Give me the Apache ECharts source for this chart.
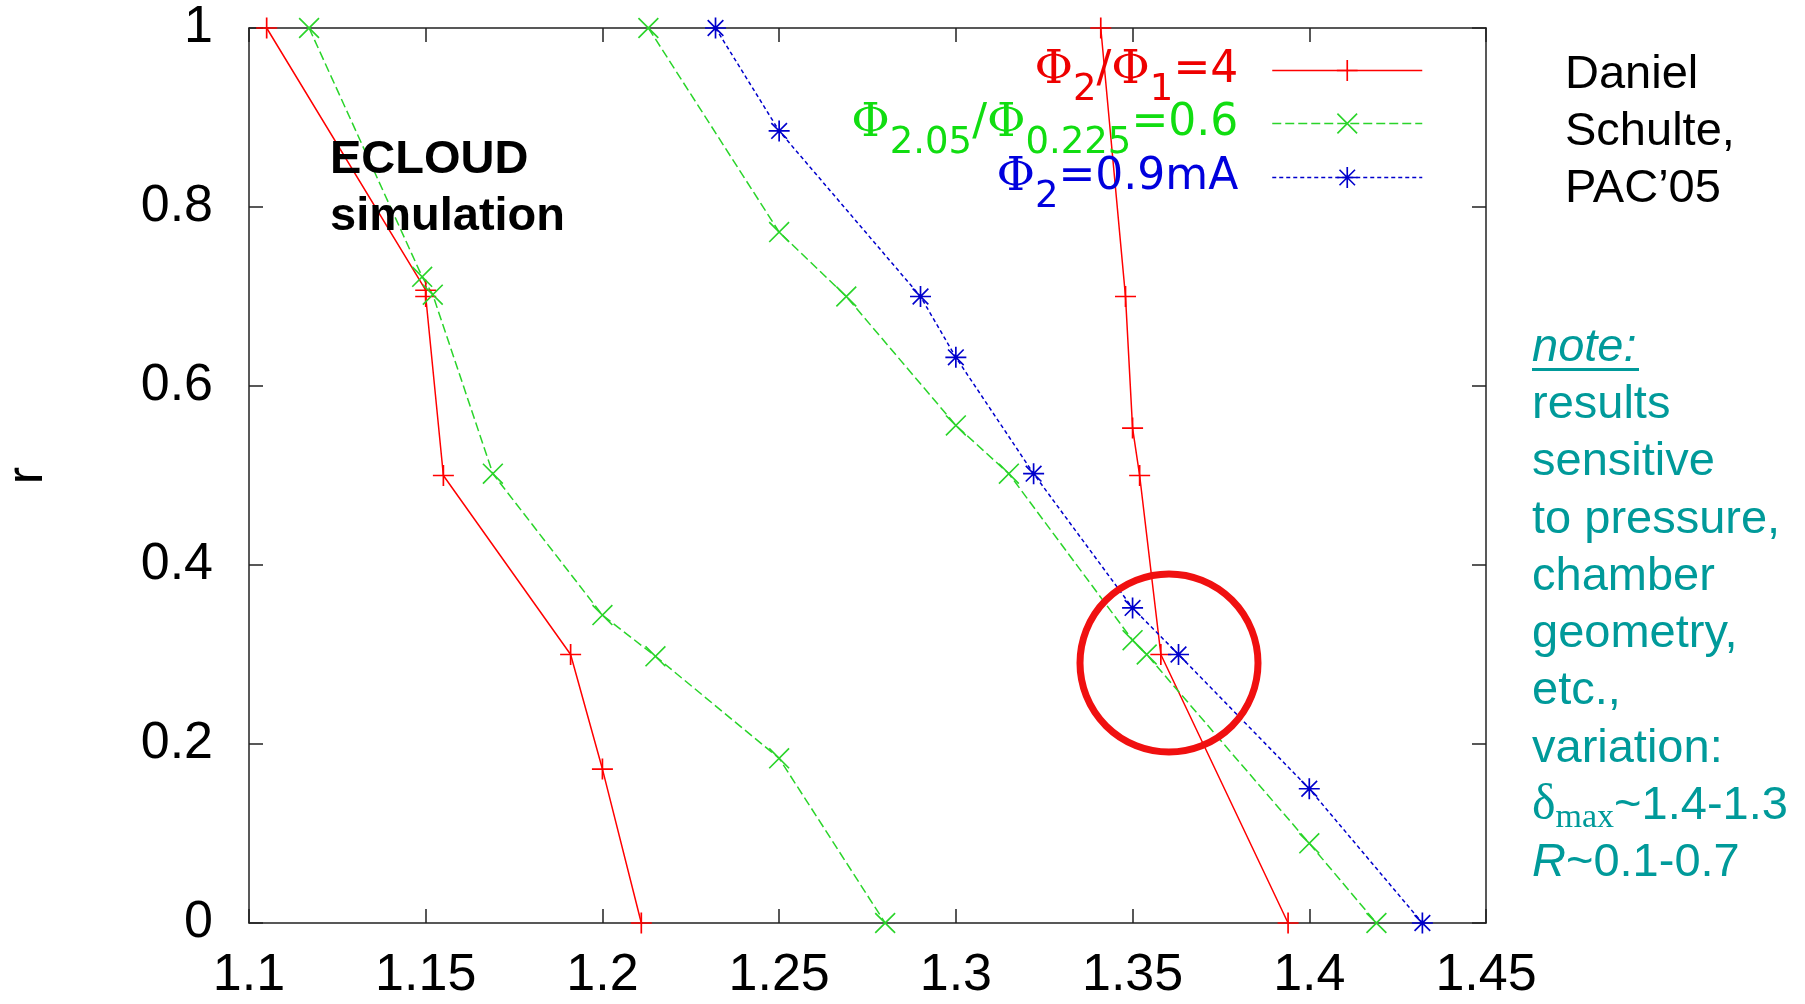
<!DOCTYPE html>
<html>
<head>
<meta charset="utf-8">
<script src="https://cdn.jsdelivr.net/npm/echarts@6/dist/echarts.min.js"></script>
<style>
  html, body { margin: 0; padding: 0; background: #ffffff; }
  #chart { width: 1805px; height: 1004px; }
</style>
</head>
<body>
<div id="chart"></div>
<script>
// r versus delta_max for three threshold definitions (ECLOUD simulation)
const xTicks = [1.1, 1.15, 1.2, 1.25, 1.3, 1.35, 1.4, 1.45];
const yTicks = [0, 0.2, 0.4, 0.6, 0.8, 1];

const seriesNames = ['Φ2/Φ1=4', 'Φ2.05/Φ0.225=0.6', 'Φ2=0.9mA'];

// [delta_max, r] pairs
const ratio4Low   = [[1.105, 1.0], [1.150, 0.707], [1.150, 0.700], [1.155, 0.500], [1.191, 0.300], [1.200, 0.172], [1.211, 0.0]];
const ratio4High  = [[1.341, 1.0], [1.348, 0.700], [1.350, 0.553], [1.352, 0.500], [1.358, 0.300], [1.394, 0.0]];
const ratio06Low  = [[1.117, 1.0], [1.149, 0.722], [1.152, 0.702], [1.169, 0.502], [1.200, 0.344], [1.215, 0.298], [1.250, 0.184], [1.280, 0.0]];
const ratio06High = [[1.213, 1.0], [1.250, 0.772], [1.269, 0.700], [1.300, 0.556], [1.315, 0.502], [1.350, 0.316], [1.354, 0.300], [1.400, 0.089], [1.419, 0.0]];
const current09   = [[1.232, 1.0], [1.250, 0.885], [1.290, 0.700], [1.300, 0.632], [1.322, 0.502], [1.350, 0.352], [1.363, 0.300], [1.400, 0.150], [1.432, 0.0]];

const noteLines = ['note:', 'results', 'sensitive', 'to pressure,', 'chamber', 'geometry,', 'etc.,', 'variation:'];

// gnuplot-style point markers drawn as thin filled bars
const PLUS  = 'path://M0,9.2h20v1.6h-20z M9.2,0h1.6v20h-1.6z';
const CROSS = 'path://M0,1.1L1.1,0L20,18.9L18.9,20z M18.9,0L20,1.1L1.1,20L0,18.9z';
const STAR  = 'path://M0,9.2h20v1.6h-20z M9.2,0h1.6v20h-1.6z M2,3.1L3.1,2L18,16.9L16.9,18z M16.9,2L18,3.1L3.1,18L2,16.9z';

const RED = '#ff0000', GREEN = '#2ad42a', BLUE = '#0000cc';
const TEAL = '#009a9a';
const AXIS = '#222222';

function curve(name, data, color, symbol, dash) {
  return {
    type: 'line', name: name, data: data,
    symbol: symbol, symbolSize: 21, showAllSymbol: true,
    lineStyle: { color: color, width: 1.5, type: dash },
    itemStyle: { color: color },
    emphasis: { disabled: true },
    z: 3
  };
}

const legendLabels = [
  '{p|Φ}{s|2}{n|/}{p|Φ}{s|1}{n|=4}{g| }',
  '{p|Φ}{s|2.05}{n|/}{p|Φ}{s|0.225}{n|=0.6}{g| }',
  '{p|Φ}{s|2}{n|=0.9mA}{g| }'
];
const legendColors = ['#ee0000', '#11dd11', '#0000dd'];
const legendTops = [47, 100, 154];

function legendRich(color) {
  return {
    p: { fontFamily: 'DejaVu Serif', fontSize: 47, lineHeight: 76, verticalAlign: 'middle', color: color },
    n: { fontFamily: 'DejaVu Sans', fontSize: 44, lineHeight: 76, verticalAlign: 'middle', color: color },
    s: { fontFamily: 'DejaVu Sans', fontSize: 37, lineHeight: 20, verticalAlign: 'bottom', color: color },
    g: { width: 29, fontSize: 10, lineHeight: 76, verticalAlign: 'middle' }
  };
}

function fmtTick(v) { return String(parseFloat(v.toFixed(2))); }

const tickFont = { fontFamily: 'Liberation Sans', fontSize: 52, color: '#000000' };

const chart = echarts.init(document.getElementById('chart'), null, { renderer: 'canvas' });

const noteRichText = noteLines.map(function (l, i) { return (i === 0 ? '{u|' : '{t|') + l + '}'; })
  .concat(['{d|δ}{m|max}{t|~1.4-1.3}', '{i|R}{t|~0.1-0.7}']).join('\n');

chart.setOption({
  animation: false,
  backgroundColor: '#ffffff',
  grid: { left: 249, top: 28, width: 1237, height: 895, containLabel: false, outerBoundsMode: 'none' },
  xAxis: [
    {
      type: 'value', position: 'bottom',
      min: xTicks[0], max: xTicks[xTicks.length - 1], interval: 0.05,
      axisLine: { show: true, onZero: false, lineStyle: { color: AXIS, width: 1.5 } },
      axisTick: { show: true, inside: true, length: 14, lineStyle: { color: AXIS, width: 1.5 } },
      axisLabel: Object.assign({ margin: 27, showMinLabel: true, showMaxLabel: true, formatter: fmtTick }, tickFont),
      splitLine: { show: false }
    },
    {
      type: 'value', position: 'top',
      min: xTicks[0], max: xTicks[xTicks.length - 1], interval: 0.05,
      axisLine: { show: true, onZero: false, lineStyle: { color: AXIS, width: 1.5 } },
      axisTick: { show: true, inside: true, length: 14, lineStyle: { color: AXIS, width: 1.5 } },
      axisLabel: { show: false },
      splitLine: { show: false }
    }
  ],
  yAxis: [
    {
      type: 'value', position: 'left',
      min: yTicks[0], max: yTicks[yTicks.length - 1], interval: 0.2,
      name: 'r', nameLocation: 'middle', nameRotate: 90, nameGap: 195,
      nameTextStyle: { fontFamily: 'Liberation Sans', fontSize: 52, color: '#000000' },
      axisLine: { show: true, onZero: false, lineStyle: { color: AXIS, width: 1.5 } },
      axisTick: { show: true, inside: true, length: 14, lineStyle: { color: AXIS, width: 1.5 } },
      axisLabel: Object.assign({ margin: 36, showMinLabel: true, showMaxLabel: true, formatter: fmtTick }, tickFont),
      splitLine: { show: false }
    },
    {
      type: 'value', position: 'right',
      min: yTicks[0], max: yTicks[yTicks.length - 1], interval: 0.2,
      axisLine: { show: true, onZero: false, lineStyle: { color: AXIS, width: 1.5 } },
      axisTick: { show: true, inside: true, length: 14, lineStyle: { color: AXIS, width: 1.5 } },
      axisLabel: { show: false },
      splitLine: { show: false }
    }
  ],
  legend: seriesNames.map(function (name, i) {
    return {
      data: [name], orient: 'vertical', align: 'right',
      right: 382, top: legendTops[i], padding: 0,
      itemWidth: 150, itemHeight: 26, selectedMode: false,
      formatter: function () { return legendLabels[i]; },
      textStyle: { rich: legendRich(legendColors[i]) },
      lineStyle: { width: 1.5 }
    };
  }),
  series: [
    curve(seriesNames[0], ratio4Low, RED, PLUS, 'solid'),
    curve(seriesNames[0], ratio4High, RED, PLUS, 'solid'),
    curve(seriesNames[1], ratio06Low, GREEN, CROSS, [9, 4]),
    curve(seriesNames[1], ratio06High, GREEN, CROSS, [9, 4]),
    curve(seriesNames[2], current09, BLUE, STAR, [4, 3])
  ],
  graphic: [
    {
      type: 'text', x: 330, y: 132, z: 100,
      style: {
        text: 'ECLOUD\nsimulation',
        fontFamily: 'Liberation Sans', fontWeight: 'bold', fontSize: 47,
        lineHeight: 57, fill: '#000000', align: 'left', verticalAlign: 'top'
      }
    },
    {
      type: 'text', x: 1565, y: 47, z: 100,
      style: {
        text: 'Daniel\nSchulte,\nPAC’05',
        fontFamily: 'Liberation Sans', fontSize: 47,
        lineHeight: 57, fill: '#000000', align: 'left', verticalAlign: 'top'
      }
    },
    {
      type: 'text', x: 1532, y: 319, z: 100,
      style: {
        text: noteRichText,
        fontFamily: 'Liberation Sans', fontSize: 47, lineHeight: 57.3,
        fill: TEAL, align: 'left', verticalAlign: 'top',
        rich: {
          t: { fill: TEAL, fontFamily: 'Liberation Sans', fontSize: 47, lineHeight: 57.3, verticalAlign: 'middle' },
          u: { fill: TEAL, fontFamily: 'Liberation Sans', fontStyle: 'italic', fontSize: 47, lineHeight: 57.3, verticalAlign: 'middle' },
          i: { fill: TEAL, fontFamily: 'Liberation Sans', fontStyle: 'italic', fontSize: 47, lineHeight: 57.3, verticalAlign: 'middle' },
          d: { fill: TEAL, fontFamily: 'Liberation Serif', fontSize: 50, lineHeight: 57.3, verticalAlign: 'middle' },
          m: { fill: TEAL, fontFamily: 'Liberation Serif', fontSize: 34, lineHeight: 20, verticalAlign: 'bottom' }
        }
      }
    },
    {
      // underline of "note:"
      type: 'rect', z: 100,
      shape: { x: 1532, y: 368, width: 107, height: 3 },
      style: { fill: TEAL }
    },
    {
      // highlight ring around the crossing region
      type: 'circle', z: 100,
      shape: { cx: 1169, cy: 663, r: 89 },
      style: { fill: 'none', stroke: '#f01010', lineWidth: 7 }
    }
  ]
});
</script>
</body>
</html>
